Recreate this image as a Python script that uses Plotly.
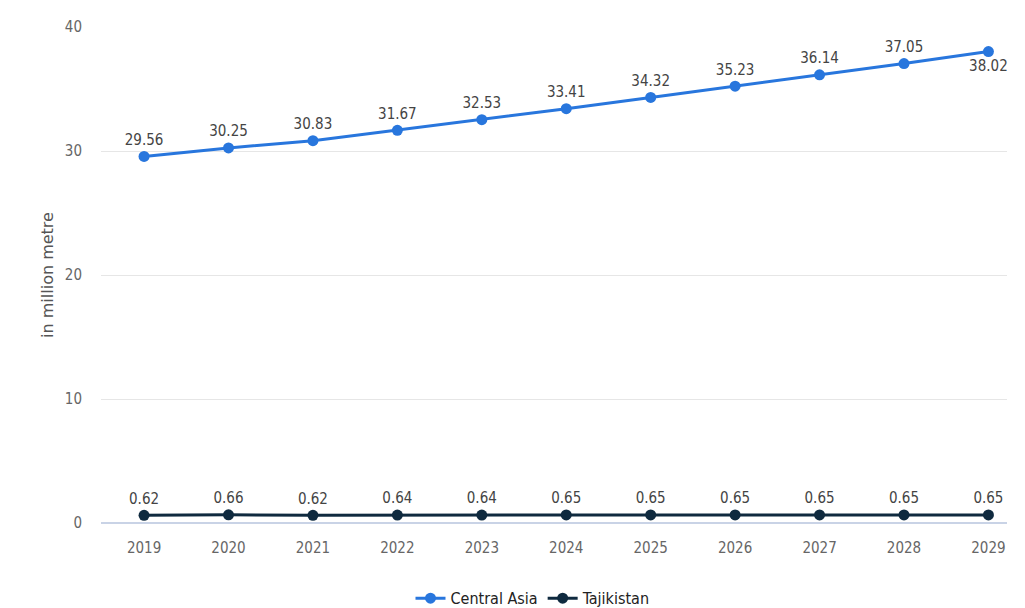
import plotly.graph_objects as go

years = ["2019", "2020", "2021", "2022", "2023", "2024", "2025", "2026", "2027", "2028", "2029"]
central_asia = [29.56, 30.25, 30.83, 31.67, 32.53, 33.41, 34.32, 35.23, 36.14, 37.05, 38.02]
tajikistan = [0.62, 0.66, 0.62, 0.64, 0.64, 0.65, 0.65, 0.65, 0.65, 0.65, 0.65]
y_ticks = [0, 10, 20, 30, 40]

FONT = "DejaVu Sans Condensed, Liberation Sans Narrow, sans-serif"

ca_pos = ["top center"] * (len(years) - 1) + ["bottom center"]

fig = go.Figure()
fig.add_trace(go.Scatter(
    x=years, y=central_asia, name="Central Asia", mode="lines+markers+text",
    line=dict(color="#2876dd", width=3), marker=dict(size=11, color="#2876dd"),
    text=[f"{v:.2f}" for v in central_asia], textposition=ca_pos,
    textfont=dict(family=FONT, size=15, color="#444"), cliponaxis=False,
))
fig.add_trace(go.Scatter(
    x=years, y=tajikistan, name="Tajikistan", mode="lines+markers+text",
    line=dict(color="#0f2a3f", width=3), marker=dict(size=11, color="#0f2a3f"),
    text=[f"{v:.2f}" for v in tajikistan], textposition="top center",
    textfont=dict(family=FONT, size=15, color="#444"), cliponaxis=False,
))

fig.update_layout(
    width=1025, height=608,
    margin=dict(l=101, r=18, t=27, b=85, autoexpand=False),
    plot_bgcolor="white", paper_bgcolor="white",
    font=dict(family=FONT, size=15, color="#666"),
    showlegend=True,
    legend=dict(orientation="h", x=0.52, xanchor="center", xref="container",
                y=0.016, yanchor="middle", yref="container",
                font=dict(family=FONT, size=16, color="#222"), itemwidth=30),
    xaxis=dict(type="category", range=[-0.51, 10.22], showgrid=False,
               ticks="", ticklabelstandoff=14,
               tickfont=dict(family=FONT, size=15, color="#666"),
               showline=False, zeroline=False),
    yaxis=dict(range=[0, 40], tickvals=y_ticks, gridcolor="#e6e6e6", gridwidth=1,
               zeroline=True, zerolinecolor="#c9d3e6", zerolinewidth=1.5,
               ticklabelstandoff=18,
               tickfont=dict(family=FONT, size=15, color="#666"),
               title=dict(text="in million metre", standoff=7,
                          font=dict(family="DejaVu Sans, sans-serif", size=16, color="#555"))),
)

fig.write_html("out.html")
